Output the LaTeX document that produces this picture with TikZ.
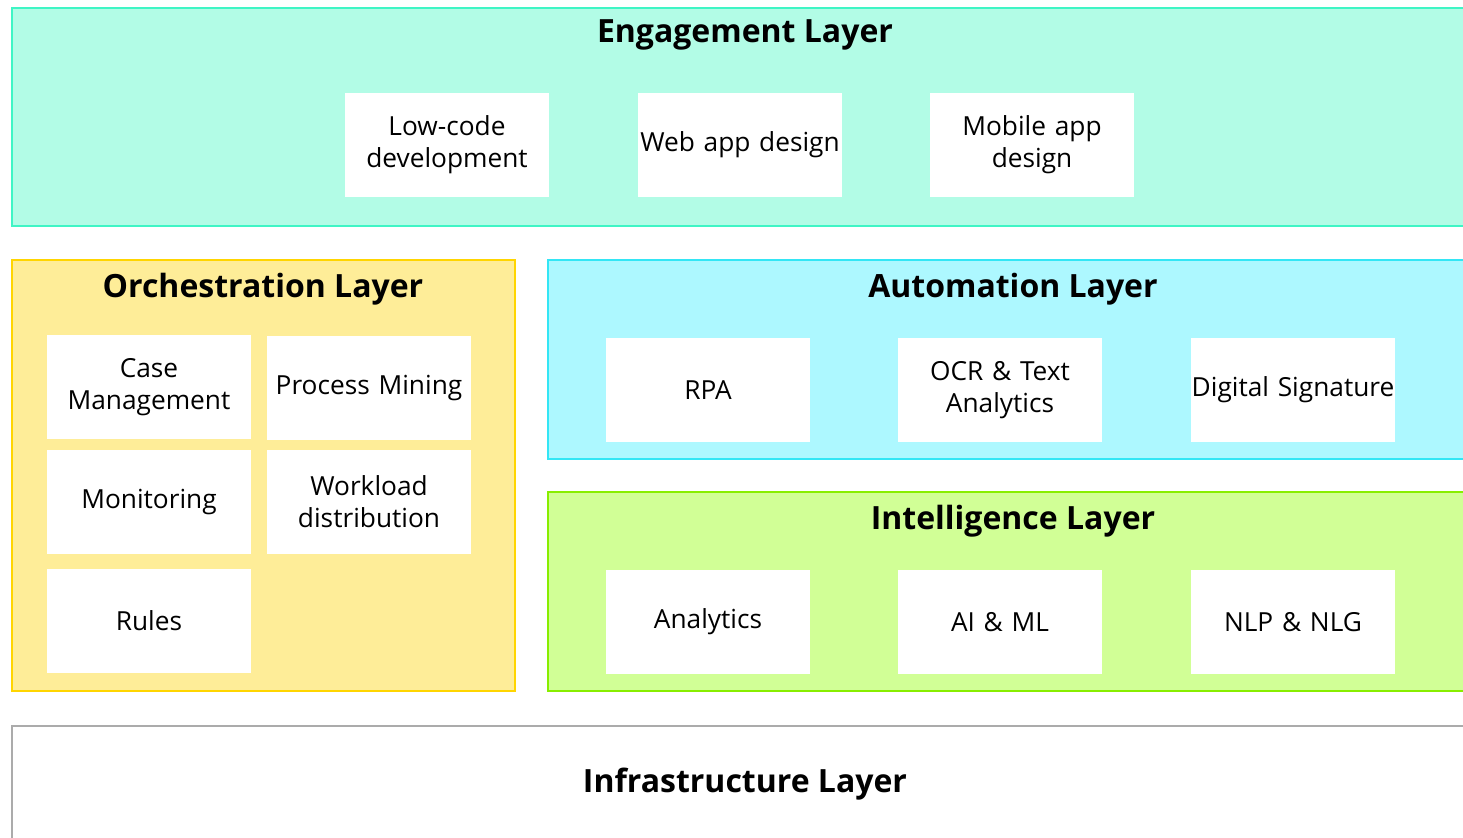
\documentclass[tikz,border=0pt]{standalone}
\usepackage{fontspec}
\setmainfont{Open Sans}
\begin{document}
\begin{tikzpicture}[x=0.75pt,y=-0.75pt,
  layer/.style={draw, line width=2.2pt, inner sep=0pt},
  item/.style={fill=white, minimum width=153pt, minimum height=78pt, inner sep=0pt, text width=153pt, align=center, font=\fontsize{19.7}{24}\selectfont},
  title/.style={font=\fontsize{24}{28}\selectfont\bfseries, anchor=center}]
\definecolor{engfill}{HTML}{B2FCE6}\definecolor{engline}{HTML}{3FF5C5}
\definecolor{orchfill}{HTML}{FEED98}\definecolor{orchline}{HTML}{FFD500}
\definecolor{autofill}{HTML}{ADF8FF}\definecolor{autoline}{HTML}{33E6F5}
\definecolor{intfill}{HTML}{D1FF96}\definecolor{intline}{HTML}{88EE00}
\useasboundingbox (0,0) rectangle (1463,838);
\clip (0,0) rectangle (1463,838);
% layers
\node[layer, draw=engline, fill=engfill, minimum width=1099.5pt, minimum height=163.5pt] (eng) at (745,117) {};
\node[layer, draw=orchline, fill=orchfill, minimum width=377.25pt, minimum height=323.25pt] (orch) at (263.5,475.5) {};
\node[layer, draw=autoline, fill=autofill, minimum width=697.5pt, minimum height=149.25pt] (auto) at (1013,359.5) {};
\node[layer, draw=intline, fill=intfill, minimum width=697.5pt, minimum height=149.25pt] (intel) at (1013,591.5) {};
\node[layer, draw=black!33, fill=white, minimum width=1099.5pt, minimum height=90pt] (infra) at (745,786) {};
% titles
\node[title] (engt) at (745,35) {Engagement Layer};
\node[title] (orcht) at (263,289) {Orchestration Layer};
\node[title] (autot) at (1013,289) {Automation Layer};
\node[title] (intelt) at (1013,521) {Intelligence Layer};
\node[title] (infrat) at (745,784) {Infrastructure Layer};
% engagement
\node[item] (lowcode) at (447,145) {Low-code\\development};
\node[item] (webapp) at (740,145) {Web app design};
\node[item] (mobile) at (1032,145) {Mobile app\\design};
% orchestration
\node[item] (case) at (149,387) {Case\\Management};
\node[item] (mining) at (369,388) {Process Mining};
\node[item] (monitor) at (149,502) {Monitoring};
\node[item] (workload) at (369,502) {Workload\\distribution};
\node[item] (rules) at (149,621) {Rules};
% automation
\node[item] (rpa) at (708,390) {RPA};
\node[item] (ocr) at (1000,390) {OCR \& Text\\Analytics};
\node[item] (signature) at (1293,390) {Digital Signature};
% intelligence
\node[item] (analytics) at (708,622) {Analytics};
\node[item] (aiml) at (1000,622) {AI \& ML};
\node[item] (nlp) at (1293,622) {NLP \& NLG};
\end{tikzpicture}
\end{document}
